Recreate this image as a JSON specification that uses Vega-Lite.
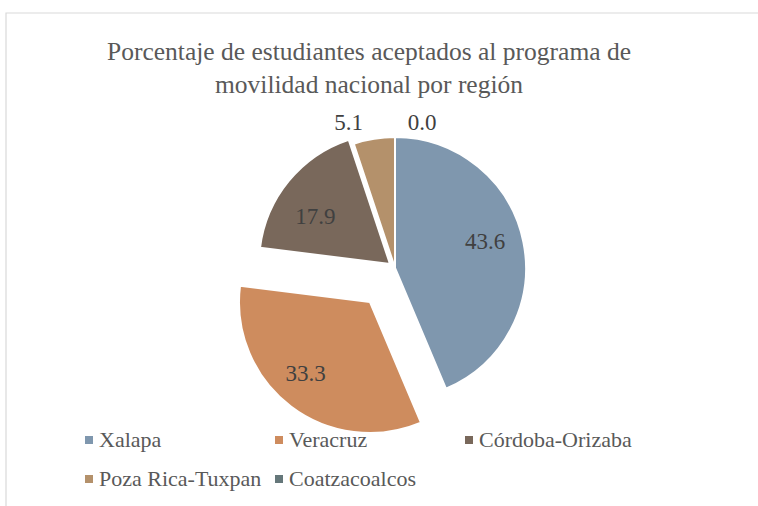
{
  "$schema": "https://vega.github.io/schema/vega-lite/v6.json",
  "width": 778,
  "height": 510,
  "autosize": {"type": "none"},
  "padding": {"left": 6, "top": 13, "right": 0, "bottom": 0},
  "background": "white",
  "config": {
    "view": {"stroke": null},
    "font": "Liberation Serif"
  },
  "title": {
    "text": ["Porcentaje de estudiantes aceptados al programa de", "movilidad nacional por región"],
    "anchor": "middle",
    "frame": "group",
    "baseline": "top",
    "offset": -86,
    "dx": -26,
    "fontSize": 25.5,
    "font": "Liberation Serif",
    "fontWeight": "normal",
    "color": "#595959",
    "lineHeight": 33
  },
  "data": {
    "values": [
      {"region": "Xalapa", "value": 43.6, "order": 1},
      {"region": "Veracruz", "value": 33.3, "order": 2},
      {"region": "Córdoba-Orizaba", "value": 17.9, "order": 3},
      {"region": "Poza Rica-Tuxpan", "value": 5.1, "order": 4},
      {"region": "Coatzacoalcos", "value": 0.0, "order": 5}
    ]
  },
  "layer": [
    {
      "data": {"values": [{"frame": "border"}]},
      "mark": {"type": "rect", "fill": null, "stroke": "#d9d9d9", "strokeWidth": 1.2},
      "encoding": {}
    },
    {
      "transform": [
        {"stack": "value", "groupby": [], "sort": [{"field": "order", "order": "ascending"}], "as": ["v0", "v1"], "offset": "normalize"},
        {"filter": "datum.region !== 'Veracruz' && datum.region !== 'Córdoba-Orizaba'"}
      ],
      "mark": {"type": "arc", "outerRadius": 131, "stroke": "white", "strokeWidth": 2},
      "encoding": {
        "theta": {"field": "v0", "type": "quantitative", "scale": {"domain": [0, 1]}},
        "theta2": {"field": "v1"},
        "color": {
          "field": "region",
          "type": "nominal",
          "scale": {
            "domain": ["Xalapa", "Veracruz", "Córdoba-Orizaba", "Poza Rica-Tuxpan", "Coatzacoalcos"],
            "range": ["#7F97AE", "#CE8C5E", "#79685B", "#B4916B", "#65777A"]
          },
          "legend": {
            "orient": "none",
            "legendX": 72,
            "legendY": 416,
            "direction": "horizontal",
            "columns": 3,
            "title": null,
            "symbolType": "square",
            "symbolSize": 64,
            "symbolStrokeWidth": 0,
            "labelFont": "Liberation Serif",
            "labelFontSize": 22,
            "labelColor": "#595959",
            "labelOffset": -1,
            "columnPadding": 6,
            "rowPadding": 17,
            "gridAlign": "all",
            "padding": 0,
            "labelLimit": 300
          }
        }
      }
    },
    {
      "transform": [
        {"stack": "value", "groupby": [], "sort": [{"field": "order", "order": "ascending"}], "as": ["v0", "v1"], "offset": "normalize"},
        {"filter": "datum.region === 'Córdoba-Orizaba'"}
      ],
      "mark": {"type": "arc", "outerRadius": 131, "stroke": "white", "strokeWidth": 2, "xOffset": -5, "yOffset": -4},
      "encoding": {
        "theta": {"field": "v0", "type": "quantitative", "scale": {"domain": [0, 1]}},
        "theta2": {"field": "v1"},
        "color": {"field": "region", "type": "nominal"}
      }
    },
    {
      "transform": [
        {"stack": "value", "groupby": [], "sort": [{"field": "order", "order": "ascending"}], "as": ["v0", "v1"], "offset": "normalize"},
        {"filter": "datum.region === 'Veracruz'"}
      ],
      "mark": {"type": "arc", "outerRadius": 131, "stroke": "white", "strokeWidth": 2, "xOffset": -25, "yOffset": 34},
      "encoding": {
        "theta": {"field": "v0", "type": "quantitative", "scale": {"domain": [0, 1]}},
        "theta2": {"field": "v1"},
        "color": {"field": "region", "type": "nominal"}
      }
    },
    {
      "mark": {"type": "text", "radius": 95, "xOffset": -3, "yOffset": -7, "fontSize": 23, "font": "Liberation Serif", "align": "center", "baseline": "middle", "color": "#404040"},
      "encoding": {
        "theta": {"field": "value", "type": "quantitative", "stack": "normalize"},
        "order": {"field": "order", "type": "quantitative"},
        "text": {"condition": {"test": "datum.region === 'Xalapa'", "field": "value", "type": "quantitative", "format": ".1f"}, "value": ""}
      }
    },
    {
      "mark": {"type": "text", "radius": 85, "xOffset": -14, "yOffset": 3, "fontSize": 23, "font": "Liberation Serif", "align": "center", "baseline": "middle", "color": "#404040"},
      "encoding": {
        "theta": {"field": "value", "type": "quantitative", "stack": "normalize"},
        "order": {"field": "order", "type": "quantitative"},
        "text": {"condition": {"test": "datum.region === 'Córdoba-Orizaba'", "field": "value", "type": "quantitative", "format": ".1f"}, "value": ""}
      }
    },
    {
      "mark": {"type": "text", "radius": 95, "xOffset": -32, "yOffset": 30, "fontSize": 23, "font": "Liberation Serif", "align": "center", "baseline": "middle", "color": "#404040"},
      "encoding": {
        "theta": {"field": "value", "type": "quantitative", "stack": "normalize"},
        "order": {"field": "order", "type": "quantitative"},
        "text": {"condition": {"test": "datum.region === 'Veracruz'", "field": "value", "type": "quantitative", "format": ".1f"}, "value": ""}
      }
    },
    {
      "mark": {"type": "text", "radius": 147, "xOffset": -23, "fontSize": 23, "font": "Liberation Serif", "align": "center", "baseline": "middle", "color": "#404040"},
      "encoding": {
        "theta": {"field": "value", "type": "quantitative", "stack": "normalize"},
        "order": {"field": "order", "type": "quantitative"},
        "text": {"condition": {"test": "datum.region === 'Poza Rica-Tuxpan'", "field": "value", "type": "quantitative", "format": ".1f"}, "value": ""}
      }
    },
    {
      "mark": {"type": "text", "radius": 145, "xOffset": 27, "fontSize": 23, "font": "Liberation Serif", "align": "center", "baseline": "middle", "color": "#404040"},
      "encoding": {
        "theta": {"field": "value", "type": "quantitative", "stack": "normalize"},
        "order": {"field": "order", "type": "quantitative"},
        "text": {"condition": {"test": "datum.region === 'Coatzacoalcos'", "field": "value", "type": "quantitative", "format": ".1f"}, "value": ""}
      }
    }
  ]
}
